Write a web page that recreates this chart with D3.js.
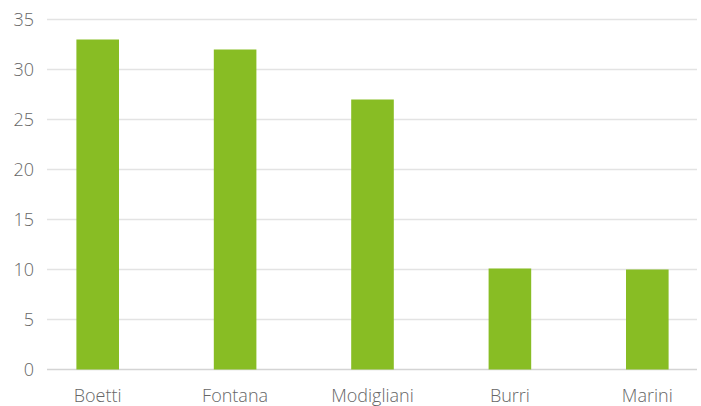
<!DOCTYPE html>
<html>
<head>
<meta charset="utf-8">
<script src="https://cdn.jsdelivr.net/npm/d3@7"></script>
<style>
  body { margin: 0; background: #fff; }
  text { font-family: "Open Sans", sans-serif; font-weight: 300; fill: #666; }
</style>
</head>
<body>
<svg id="chart" width="701" height="406"></svg>
<script>
let artists = ["Boetti", "Fontana", "Modigliani", "Burri", "Marini"];
let counts = [33, 32, 27, 10.1, 10];
let yTicks = [0, 5, 10, 15, 20, 25, 30, 35];

let svg = d3.select("#chart");

let x = d3.scaleBand().domain(artists).range([29, 716]).paddingInner(0.69).paddingOuter(0.345);
let y = d3.scaleLinear().domain([0, 35]).range([369.5, 19.5]);

// gridlines
svg.append("g").selectAll("line").data(yTicks).enter()
    .append("line")
    .attr("x1", 47).attr("x2", 697)
    .attr("y1", d => y(d)).attr("y2", d => y(d))
    .attr("stroke", d => d === 0 ? "#d4d4d4" : "#e3e3e3")
    .attr("stroke-width", 1.5);

// y labels
svg.append("g").selectAll("text").data(yTicks).enter()
    .append("text")
    .attr("x", 34)
    .attr("y", d => y(d) + 6.5)
    .attr("text-anchor", "end")
    .style("font-size", "18px")
    .text(d => d);

// bars
svg.append("g").selectAll("rect").data(artists).enter()
    .append("rect")
    .attr("x", d => x(d))
    .attr("width", x.bandwidth())
    .attr("y", (d, i) => y(counts[i]))
    .attr("height", (d, i) => y(0) - y(counts[i]))
    .attr("fill", "#88bd24");

// x labels
svg.append("g").selectAll("text").data(artists).enter()
    .append("text")
    .attr("x", d => x(d) + x.bandwidth() / 2)
    .attr("y", 402)
    .attr("text-anchor", "middle")
    .style("font-size", "18px")
    .text(d => d);
</script>
</body>
</html>
